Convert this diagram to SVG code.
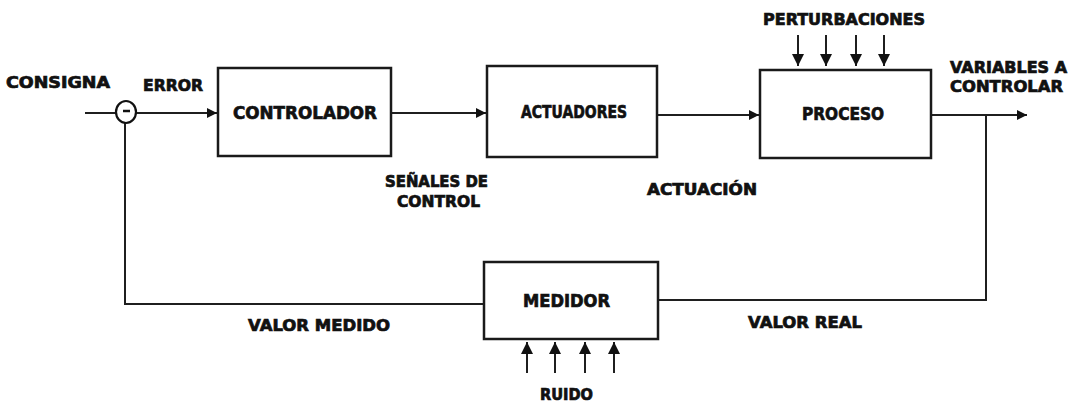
<svg xmlns="http://www.w3.org/2000/svg" width="1072" height="403" viewBox="0 0 1072 403">
  <style>
    .box { fill: #fff; stroke: #1a1a1a; stroke-width: 2.5; }
    .wire { fill: none; stroke: #1f1f1f; stroke-width: 2; }
    .lbl { font-family: "DejaVu Sans", "Liberation Sans", sans-serif; font-weight: bold; font-size: 15px; fill: #111; stroke: #111; stroke-width: 0.7; }
    .big { font-size: 17px; }
  </style>
  <defs>
    <marker id="arr" viewBox="0 0 10 10" refX="10" refY="5" markerWidth="11" markerHeight="10" markerUnits="userSpaceOnUse" orient="auto">
      <path d="M0,0 L10,5 L0,10 Z" fill="#111"/>
    </marker>
    <marker id="arrS" viewBox="0 0 10 10" refX="10" refY="5" markerWidth="13" markerHeight="12" markerUnits="userSpaceOnUse" orient="auto">
      <path d="M0,0 L10,5 L0,10 Z" fill="#111"/>
    </marker>
  </defs>

  <rect width="1072" height="403" fill="#fff"/>

  <!-- connectors -->
  <g id="connectors">
    <line class="wire" x1="85" y1="113" x2="116" y2="113"/>
    <line class="wire" x1="136" y1="113" x2="217" y2="113" marker-end="url(#arr)"/>
    <line class="wire" x1="391" y1="113" x2="486" y2="113" marker-end="url(#arr)"/>
    <line class="wire" x1="657" y1="115" x2="759" y2="115" marker-end="url(#arr)"/>
    <line class="wire" x1="931" y1="115" x2="1027" y2="115" marker-end="url(#arr)"/>
    <polyline class="wire" points="986,115 986,300 658,300"/>
    <polyline class="wire" points="484,304 125,304 125,123"/>
    <!-- disturbances -->
    <line class="wire" x1="798" y1="35" x2="798" y2="66" marker-end="url(#arrS)"/>
    <line class="wire" x1="826" y1="35" x2="826" y2="66" marker-end="url(#arrS)"/>
    <line class="wire" x1="856" y1="35" x2="856" y2="66" marker-end="url(#arrS)"/>
    <line class="wire" x1="884" y1="35" x2="884" y2="66" marker-end="url(#arrS)"/>
    <!-- noise -->
    <line class="wire" x1="527" y1="373" x2="527" y2="342" marker-end="url(#arrS)"/>
    <line class="wire" x1="555" y1="373" x2="555" y2="342" marker-end="url(#arrS)"/>
    <line class="wire" x1="585" y1="373" x2="585" y2="342" marker-end="url(#arrS)"/>
    <line class="wire" x1="614" y1="373" x2="614" y2="342" marker-end="url(#arrS)"/>
  </g>

  <!-- summing junction -->
  <g id="sum">
    <ellipse cx="126" cy="112" rx="10" ry="11" fill="#fff" stroke="#111" stroke-width="2.2"/>
    <line x1="123" y1="111" x2="130" y2="111" stroke="#111" stroke-width="2.5"/>
  </g>

  <g id="controlador">
    <rect class="box" x="218" y="68" width="173" height="88"/>
    <text class="lbl big" x="233" y="119" textLength="144" lengthAdjust="spacingAndGlyphs">CONTROLADOR</text>
  </g>

  <g id="actuadores">
    <rect class="box" x="487" y="66" width="170" height="91"/>
    <text class="lbl big" x="521" y="118" textLength="106" lengthAdjust="spacingAndGlyphs">ACTUADORES</text>
  </g>

  <g id="proceso">
    <rect class="box" x="760" y="70" width="171" height="88"/>
    <text class="lbl big" x="802" y="120" textLength="82" lengthAdjust="spacingAndGlyphs">PROCESO</text>
  </g>

  <g id="medidor">
    <rect class="box" x="484" y="262" width="174" height="77"/>
    <text class="lbl big" x="523" y="307" textLength="87" lengthAdjust="spacingAndGlyphs">MEDIDOR</text>
  </g>

  <!-- signal labels -->
  <g id="labels">
    <text class="lbl" x="6" y="88" textLength="104" lengthAdjust="spacingAndGlyphs">CONSIGNA</text>
    <text class="lbl" x="143" y="91" textLength="60" lengthAdjust="spacingAndGlyphs">ERROR</text>
    <text class="lbl" x="385" y="187" textLength="103" lengthAdjust="spacingAndGlyphs">SEÑALES DE</text>
    <text class="lbl" x="397" y="207" textLength="83" lengthAdjust="spacingAndGlyphs">CONTROL</text>
    <text class="lbl" x="647" y="195" textLength="110" lengthAdjust="spacingAndGlyphs">ACTUACIÓN</text>
    <text class="lbl" x="763" y="25" textLength="162" lengthAdjust="spacingAndGlyphs">PERTURBACIONES</text>
    <text class="lbl" x="950" y="73" textLength="117" lengthAdjust="spacingAndGlyphs">VARIABLES A</text>
    <text class="lbl" x="950" y="92" textLength="113" lengthAdjust="spacingAndGlyphs">CONTROLAR</text>
    <text class="lbl" x="248" y="331" textLength="142" lengthAdjust="spacingAndGlyphs">VALOR MEDIDO</text>
    <text class="lbl" x="748" y="328" textLength="114" lengthAdjust="spacingAndGlyphs">VALOR REAL</text>
    <text class="lbl" x="540" y="400" textLength="53" lengthAdjust="spacingAndGlyphs">RUIDO</text>
  </g>
</svg>
